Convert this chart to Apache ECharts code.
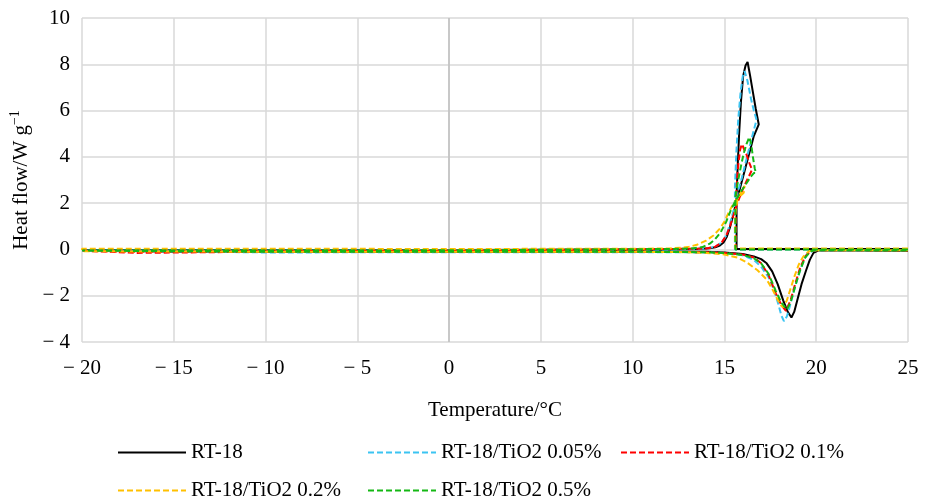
<!DOCTYPE html>
<html><head><meta charset="utf-8">
<script src="https://cdn.jsdelivr.net/npm/echarts@6/dist/echarts.min.js"></script>
<style>html,body{margin:0;padding:0;background:#fff}#c{width:933px;height:502px}</style>
</head><body><div id="c"></div>
<script>
const seriesNames = ['RT-18','RT-18/TiO2 0.05%','RT-18/TiO2 0.1%','RT-18/TiO2 0.2%','RT-18/TiO2 0.5%'];
const xTicks = [-20,-15,-10,-5,0,5,10,15,20,25];
const yTicks = [-4,-2,0,2,4,6,8,10];

// [temperature °C, heat flow W/g] — cooling run then heating run
const rt18 = [[25,0.02],[20,0.02],[17,0.02],[15.66,0.02],[15.66,2.3],[15.72,3.6],[15.8,5.0],[15.9,6.4],[16.02,7.5],[16.15,7.95],[16.26,8.1],[16.4,7.5],[16.55,6.8],[16.7,6.1],[16.87,5.4],[16.78,5.35],[16.6,4.9],[16.4,4.3],[16.2,3.7],[16.0,3.1],[15.8,2.5],[15.6,1.9],[15.45,1.4],[15.3,0.95],[15.13,0.55],[14.95,0.3],[14.75,0.17],[14.5,0.09],[14.2,0.05],[13.5,0.02],[10,0.0],[0,-0.02],[-10,-0.03],[-20,-0.03],
  [-20,-0.08],[-15,-0.1],[-10,-0.09],[-5,-0.1],[0,-0.09],[5,-0.1],[10,-0.09],[14,-0.1],[15,-0.13],[16,-0.2],[16.6,-0.3],[17.0,-0.42],[17.3,-0.6],[17.6,-0.95],[17.9,-1.5],[18.2,-2.2],[18.45,-2.7],[18.65,-2.94],[18.8,-2.7],[19.0,-2.1],[19.2,-1.5],[19.45,-0.9],[19.65,-0.45],[19.85,-0.15],[20.1,-0.05],[22,-0.05],[25,-0.06]];
const tio2_005 = [[25,0.0],[15.57,0.0],[15.57,2.7],[15.65,4.2],[15.75,5.6],[15.88,6.8],[16.0,7.5],[16.1,7.7],[16.25,7.3],[16.45,6.5],[16.6,6.0],[16.75,5.6],[16.65,5.3],[16.45,4.7],[16.2,3.9],[15.95,3.1],[15.7,2.4],[15.5,1.7],[15.3,1.1],[15.1,0.6],[14.85,0.3],[14.5,0.12],[14.0,0.04],[12,0.0],[5,-0.02],[-5,-0.05],[-20,-0.05],
  [-20,-0.12],[-10,-0.13],[0,-0.12],[10,-0.12],[14,-0.13],[15,-0.15],[16,-0.25],[16.6,-0.45],[17.0,-0.75],[17.4,-1.2],[17.7,-1.75],[17.95,-2.4],[18.1,-2.85],[18.24,-3.1],[18.4,-2.9],[18.6,-2.35],[18.8,-1.75],[19.0,-1.2],[19.25,-0.6],[19.5,-0.2],[19.8,-0.05],[25,-0.05]];
const tio2_01 = [[25,0.02],[15.62,0.02],[15.62,2.0],[15.68,2.9],[15.76,3.7],[15.85,4.3],[15.95,4.55],[16.05,4.5],[16.2,4.1],[16.35,3.75],[16.5,3.45],[16.42,3.3],[16.2,2.95],[15.95,2.5],[15.7,2.0],[15.5,1.5],[15.3,1.0],[15.1,0.6],[14.85,0.3],[14.5,0.12],[14.0,0.04],[12,0.02],[0,-0.05],[-17,-0.1],[-20,-0.06],
  [-20,-0.1],[-17,-0.15],[-10,-0.1],[0,-0.1],[10,-0.1],[14,-0.12],[15,-0.15],[16,-0.22],[16.6,-0.35],[17.0,-0.6],[17.4,-1.1],[17.8,-1.9],[18.1,-2.4],[18.35,-2.65],[18.6,-2.2],[18.85,-1.5],[19.1,-0.85],[19.4,-0.3],[19.7,-0.07],[20,-0.03],[25,-0.05]];
const tio2_02 = [[25,0.04],[16,0.04],[15.58,0.04],[15.58,1.5],[15.7,2.1],[15.85,2.4],[16.0,2.6],[16.1,2.75],[16.05,2.45],[15.85,2.3],[15.6,2.1],[15.4,1.85],[15.2,1.55],[15.0,1.2],[14.75,0.9],[14.4,0.6],[14.0,0.38],[13.5,0.2],[13.0,0.1],[12.0,0.04],[10,0.03],[0,0.02],[-10,0.03],[-20,0.03],
  [-20,-0.08],[-10,-0.1],[0,-0.1],[10,-0.1],[13,-0.12],[14,-0.15],[15,-0.22],[15.7,-0.35],[16.2,-0.55],[16.8,-0.9],[17.3,-1.3],[17.6,-1.7],[17.85,-2.1],[18.05,-2.4],[18.2,-2.5],[18.4,-2.2],[18.6,-1.7],[18.8,-1.2],[19.05,-0.65],[19.3,-0.3],[19.6,-0.08],[20,-0.03],[25,-0.04]];
const tio2_05 = [[25,0.0],[15.6,0.0],[15.6,2.3],[15.75,3.0],[15.9,3.6],[16.05,4.15],[16.2,4.55],[16.35,4.85],[16.45,4.6],[16.55,4.0],[16.65,3.5],[16.72,3.3],[16.6,3.3],[16.4,3.1],[16.15,2.8],[15.9,2.5],[15.6,2.1],[15.35,1.7],[15.1,1.2],[14.8,0.75],[14.5,0.45],[14.2,0.25],[13.8,0.1],[13.2,0.04],[12,0.02],[0,-0.04],[-20,-0.05],
  [-20,-0.1],[-10,-0.1],[0,-0.1],[10,-0.1],[14,-0.12],[15,-0.16],[16,-0.24],[16.6,-0.38],[17.0,-0.6],[17.4,-1.05],[17.8,-1.8],[18.1,-2.3],[18.4,-2.6],[18.6,-2.3],[18.85,-1.6],[19.1,-0.95],[19.4,-0.35],[19.7,-0.08],[20,-0.03],[25,-0.05]];

const allData = [rt18, tio2_005, tio2_01, tio2_02, tio2_05];
const colors = ['#000000','#3BC4F2','#FF0000','#FFC000','#14B814'];
const dashed = [false,true,true,true,true];
const FONT = '"Liberation Serif","Times New Roman",serif';
const FS = 21;
const minusFmt = v => v < 0 ? '\u2212 ' + Math.abs(v) : String(v);

const series = allData.map((d,i)=>({
  name: seriesNames[i], type:'line', data:d, symbol:'none', showSymbol:false,
  lineStyle:{color:colors[i], width:2, type: dashed[i] ? [6,3] : 'solid'},
  itemStyle:{color:colors[i]}, z: 3+i, animation:false
}));
series.unshift({type:'line', data:[], silent:true, z:2, animation:false,
  markLine:{silent:true, symbol:'none', label:{show:false},
    lineStyle:{color:'#BFBFBF', width:1.5, type:'solid'}, data:[{xAxis:0}], animation:false}});

const legendPos = [[117,442],[367,442],[620,442],[117,480],[367,480]];
const legends = seriesNames.map((n,i)=>({
  data:[n], left:legendPos[i][0], top:legendPos[i][1], padding:0, itemWidth:68, itemHeight:14, itemGap:5,
  itemStyle:{opacity:0},
  textStyle:{fontFamily:FONT, fontSize:FS, color:'#000'}
}));

const chart = echarts.init(document.getElementById('c'), null, {renderer:'canvas'});
chart.setOption({
  animation:false,
  backgroundColor:'#fff',
  grid:{left:82, right:25, top:18, bottom:160, containLabel:false},
  legend: legends,
  xAxis:{type:'value', min:xTicks[0], max:xTicks[xTicks.length-1], interval:5,
    name:'Temperature/°C', nameLocation:'middle', nameGap:58,
    nameTextStyle:{fontFamily:FONT, fontSize:FS, color:'#000'},
    axisLine:{show:false}, axisTick:{show:false},
    axisLabel:{fontFamily:FONT, fontSize:FS, color:'#000', margin:16, formatter:minusFmt},
    splitLine:{show:true, lineStyle:{color:'#D9D9D9', width:1.5}}},
  yAxis:{type:'value', min:yTicks[0], max:yTicks[yTicks.length-1], interval:2,
    name:'Heat flow/W g{sup|\u22121}', nameLocation:'middle', nameGap:43,
    nameTextStyle:{fontFamily:FONT, fontSize:FS, color:'#000',
      rich:{sup:{fontFamily:FONT, fontSize:14, color:'#000', padding:[0,0,11,0]}}},
    axisLine:{show:false}, axisTick:{show:false},
    axisLabel:{fontFamily:FONT, fontSize:FS, color:'#000', margin:12, formatter:minusFmt},
    splitLine:{show:true, lineStyle:{color:'#D9D9D9', width:1.5}}},
  series: series
});
</script></body></html>
